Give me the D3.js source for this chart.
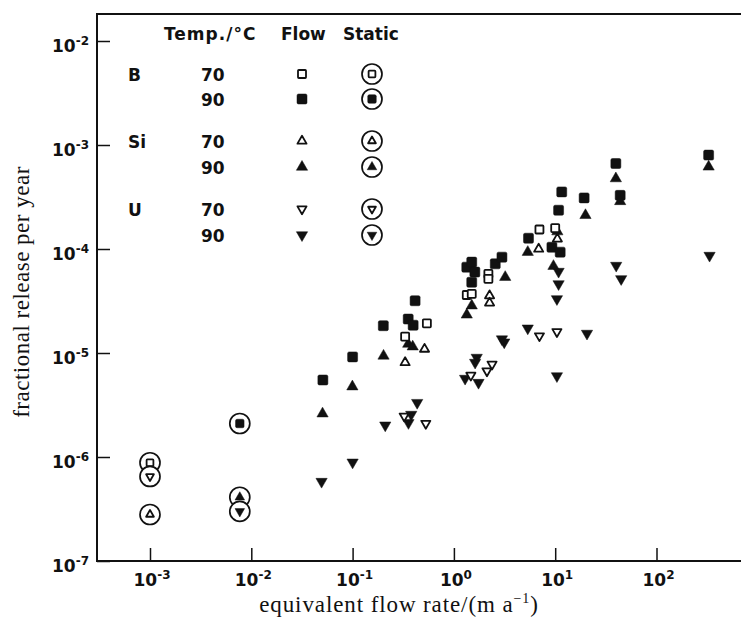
<!DOCTYPE html>
<html>
<head>
<meta charset="utf-8">
<script src="https://cdn.jsdelivr.net/npm/d3@7"></script>
<style>
body { margin: 0; background: #fff; }
</style>
</head>
<body>
<svg id="chart" width="741" height="622"></svg>
<script>
// tick exponents
const xTicks = [-3, -2, -1, 0, 1, 2]
const yTicks = [-2, -3, -4, -5, -6, -7]

// flow experiments: [equivalent flow rate (m/a), fractional release per year]
const b70Flow = [[0.330, 1.44e-5], [0.541, 1.93e-5], [1.34, 3.61e-5], [1.50, 3.70e-5],
  [2.19, 5.77e-5], [2.19, 5.16e-5], [6.99, 1.54e-4], [10.0, 1.59e-4]]
const b90Flow = [[0.0509, 5.5e-6], [0.100, 9.17e-6], [0.201, 1.83e-5], [0.354, 2.12e-5],
  [0.396, 1.85e-5], [0.414, 3.18e-5], [1.34, 6.69e-5], [1.50, 7.48e-5], [1.61, 6.0e-5],
  [1.50, 4.79e-5], [2.56, 7.2e-5], [2.98, 8.35e-5], [5.45, 1.27e-4], [9.28, 1.04e-4],
  [11.2, 9.33e-5], [10.8, 2.36e-4], [11.6, 3.54e-4], [19.3, 3.10e-4], [39.7, 6.64e-4],
  [43.8, 3.28e-4], [327, 8.0e-4]]
const si70Flow = [[0.330, 8.1e-6], [0.513, 1.09e-5], [2.25, 3.56e-5], [2.25, 3.03e-5],
  [6.87, 1.0e-4], [10.5, 1.25e-4]]
const si90Flow = [[0.0505, 2.61e-6], [0.0995, 4.75e-6], [0.202, 9.38e-6], [0.354, 1.22e-5],
  [0.392, 1.15e-5], [1.34, 2.33e-5], [1.50, 2.85e-5], [3.21, 5.36e-5], [5.36, 9.33e-5],
  [10.5, 1.47e-4], [9.61, 6.84e-5], [19.9, 2.11e-4], [39.7, 4.76e-4], [43.8, 2.87e-4],
  [327, 6.17e-4]]
const u70Flow = [[0.323, 2.47e-6], [0.528, 2.10e-6], [1.47, 6.1e-6], [2.12, 6.72e-6],
  [2.38, 7.8e-6], [6.99, 1.46e-5], [10.4, 1.60e-5]]
const u90Flow = [[0.0494, 5.8e-7], [0.100, 8.89e-7], [0.210, 2.02e-6], [0.356, 2.13e-6],
  [0.379, 2.56e-6], [0.434, 3.33e-6], [1.29, 5.68e-6], [1.68, 9.05e-6], [1.62, 8.1e-6],
  [1.75, 5.19e-6], [2.98, 1.36e-5], [3.14, 1.27e-5], [5.36, 1.73e-5], [10.4, 6.01e-6],
  [20.6, 1.54e-5], [10.8, 6.07e-5], [10.8, 4.61e-5], [10.4, 3.31e-5], [40.0, 6.93e-5],
  [44.8, 5.16e-5], [334, 8.65e-5]]

// static experiments
const b70Static = [[1.0e-3, 8.8e-7]]
const b90Static = [[7.7e-3, 2.1e-6]]
const si70Static = [[1.0e-3, 2.8e-7]]
const si90Static = [[7.7e-3, 4.1e-7]]
const u70Static = [[1.0e-3, 6.5e-7]]
const u90Static = [[7.7e-3, 3.0e-7]]

const legendHead = ["Temp./\u00B0C", "Flow", "Static"]
const legendRows = [
  {el: "B", temp: "70", shape: "square", filled: false},
  {el: "", temp: "90", shape: "square", filled: true},
  {el: "Si", temp: "70", shape: "up", filled: false},
  {el: "", temp: "90", shape: "up", filled: true},
  {el: "U", temp: "70", shape: "down", filled: false},
  {el: "", temp: "90", shape: "down", filled: true}
]

const svg = d3.select("#chart")

const x = d3.scaleLog().domain([1e-3, 1e2]).range([150, 656.5])
const y = d3.scaleLog().domain([1e-7, 1e-2]).range([561, 41])

const plotLeft = 97, plotRight = 741, plotTop = 14, plotBottom = 561
const sans = "'DejaVu Sans', sans-serif"
const serif = "'Liberation Serif', 'Times New Roman', serif"

// frame (no right edge, figure is cropped)
svg.append("path")
  .attr("d", `M${plotRight},${plotTop}H${plotLeft}V${plotBottom}H${plotRight}`)
  .attr("fill", "none")
  .attr("stroke", "#111")
  .attr("stroke-width", 2)

// ticks, drawn inward
let xAxis = svg.append("g").attr("transform", `translate(0,${plotBottom})`)
  .call(d3.axisBottom(x).tickValues(xTicks.map(d => Math.pow(10, d))).tickSize(-13).tickFormat(""))
xAxis.select(".domain").remove()
xAxis.selectAll("line").attr("stroke", "#111").attr("stroke-width", 1.5)

let yAxis = svg.append("g").attr("transform", `translate(${plotLeft},0)`)
  .call(d3.axisLeft(y).tickValues(yTicks.map(d => Math.pow(10, d))).tickSize(-13).tickFormat(""))
yAxis.select(".domain").remove()
yAxis.selectAll("line").attr("stroke", "#111").attr("stroke-width", 1.5)

// tick labels with superscript exponents
function powLabel(g, e) {
  g.append("tspan").text("10")
  g.append("tspan").attr("dy", -7).attr("font-size", 12).text(e < 0 ? "-" + (-e) : e)
}
xTicks.forEach(e => {
  let t = svg.append("text")
    .attr("x", x(Math.pow(10, e)) + 2)
    .attr("y", 586)
    .attr("text-anchor", "middle")
    .attr("font-family", sans).attr("font-weight", "bold").attr("font-size", 17)
    .attr("fill", "#111")
  powLabel(t, e)
})
yTicks.forEach(e => {
  let t = svg.append("text")
    .attr("x", 89)
    .attr("y", y(Math.pow(10, e)) + 11)
    .attr("text-anchor", "end")
    .attr("font-family", sans).attr("font-weight", "bold").attr("font-size", 17)
    .attr("fill", "#111")
  powLabel(t, e)
})

// axis titles
let xt = svg.append("text")
  .attr("x", 399).attr("y", 612)
  .attr("text-anchor", "middle")
  .attr("font-family", serif).attr("font-size", 23).attr("letter-spacing", 0.9)
  .attr("fill", "#111")
xt.append("tspan").text("equivalent flow rate/(m a")
xt.append("tspan").attr("dy", -9).attr("font-size", 14).text("\u22121")
xt.append("tspan").attr("dy", 9).text(")")

svg.append("text")
  .attr("transform", "translate(29,292) rotate(-90)")
  .attr("text-anchor", "middle")
  .attr("font-family", serif).attr("font-size", 23).attr("letter-spacing", 0.5)
  .attr("fill", "#111")
  .text("fractional release per year")

// marker drawing
function marker(g, shape, filled, cx, cy, scale) {
  scale = scale || 1
  if (shape === "square") {
    let s = (filled ? 10 : 8) * scale
    g.append("rect")
      .attr("x", cx - s / 2).attr("y", cy - s / 2)
      .attr("width", s).attr("height", s)
      .attr("rx", filled ? 1.5 : 0.8)
      .attr("fill", filled ? "#111" : "#fff")
      .attr("stroke", "#111")
      .attr("stroke-width", filled ? 0.5 : 1.8)
  } else {
    let area = (filled ? 55 : 36) * scale * scale
    g.append("path")
      .attr("d", d3.symbol(d3.symbolTriangle, area)())
      .attr("transform", `translate(${cx},${cy})` + (shape === "down" ? " rotate(180)" : ""))
      .attr("fill", filled ? "#111" : "#fff")
      .attr("stroke", "#111")
      .attr("stroke-linejoin", "round")
      .attr("stroke-width", filled ? 0.5 : 1.8)
  }
}
function staticMarker(g, shape, filled, cx, cy) {
  g.append("circle")
    .attr("cx", cx).attr("cy", cy).attr("r", 10)
    .attr("fill", "#fff").attr("stroke", "#111").attr("stroke-width", 1.7)
  marker(g, shape, filled, cx, cy, 0.85)
}

const pts = svg.append("g")
const flowSeries = [
  [b90Flow, "square", true], [si90Flow, "up", true], [u90Flow, "down", true],
  [b70Flow, "square", false], [si70Flow, "up", false], [u70Flow, "down", false]
]
flowSeries.forEach(([data, shape, filled]) => {
  data.forEach(d => marker(pts, shape, filled, x(d[0]), y(d[1])))
})

const staticSeries = [
  [b70Static, "square", false], [u70Static, "down", false], [si70Static, "up", false],
  [b90Static, "square", true], [si90Static, "up", true], [u90Static, "down", true]
]
staticSeries.forEach(([data, shape, filled]) => {
  data.forEach(d => staticMarker(pts, shape, filled, x(d[0]), y(d[1])))
})

// legend
const lg = svg.append("g")
  .attr("font-family", sans).attr("font-weight", "bold").attr("font-size", 17).attr("fill", "#111")
const headX = [164, 281, 343]
legendHead.forEach((h, i) => {
  lg.append("text").attr("x", headX[i]).attr("y", 40)
    .attr("letter-spacing", i === 0 ? 1 : 0).text(h)
})
const rowY = [81, 106, 148, 174, 216, 242]
legendRows.forEach((r, i) => {
  if (r.el) lg.append("text").attr("x", 128).attr("y", rowY[i]).text(r.el)
  lg.append("text").attr("x", 201).attr("y", rowY[i]).text(r.temp)
  marker(lg, r.shape, r.filled, 302, rowY[i] - 7)
  staticMarker(lg, r.shape, r.filled, 372, rowY[i] - 7)
})
</script>
</body>
</html>
